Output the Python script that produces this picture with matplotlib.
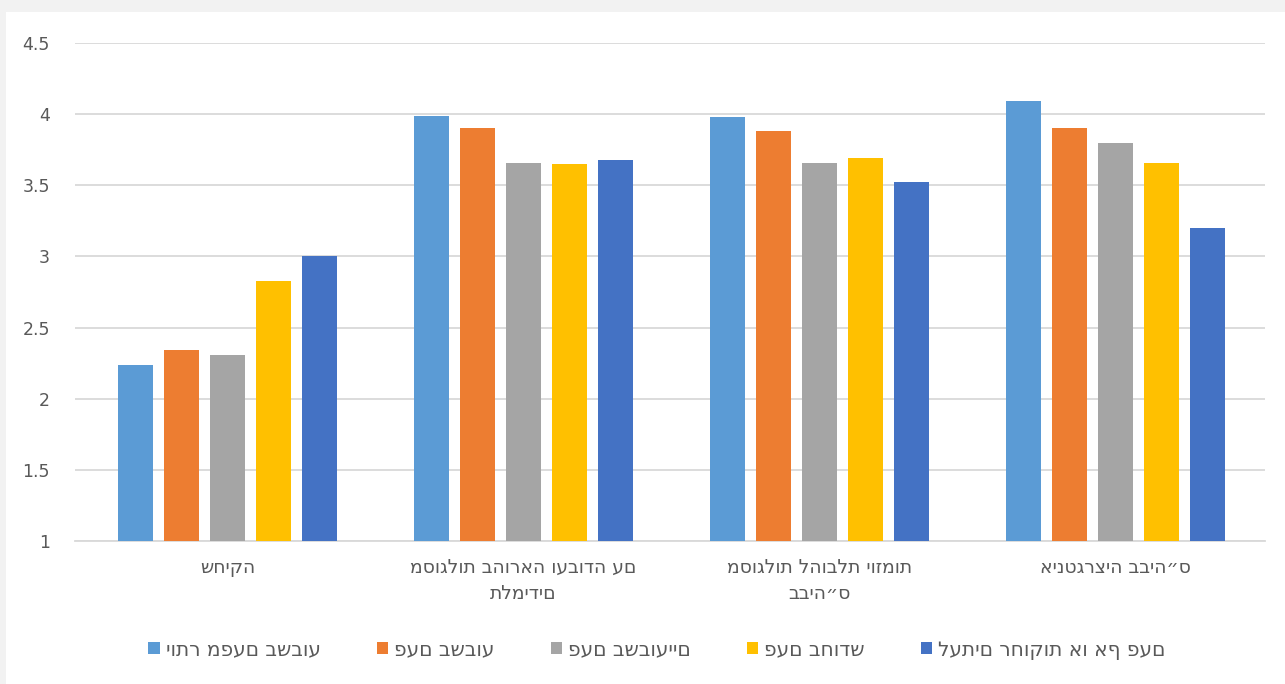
import matplotlib
matplotlib.use("Agg")
import matplotlib.pyplot as plt
from matplotlib.patches import Rectangle
import numpy as np

# the reference shows the Hebrew laid out left to right, same as matplotlib does
categories = [
    "שחיקה",
    "מסוגלות בהוראה ועבודה עם\nתלמידים",
    "מסוגלות להובלת יוזמות\nבביה״ס",
    "אינטגרציה בביה״ס",
]
series_names = [
    "יותר מפעם בשבוע",
    "פעם בשבוע",
    "פעם בשבועיים",
    "פעם בחודש",
    "לעתים רחוקות או אף פעם",
]
more_than_weekly = [2.24, 3.99, 3.98, 4.09]
weekly = [2.34, 3.90, 3.88, 3.90]
biweekly = [2.31, 3.66, 3.66, 3.80]
monthly = [2.83, 3.65, 3.69, 3.66]
rarely = [3.00, 3.68, 3.52, 3.20]
y_ticks = [1, 1.5, 2, 2.5, 3, 3.5, 4, 4.5]

series_values = [more_than_weekly, weekly, biweekly, monthly, rarely]
colors = ["#5B9BD5", "#ED7D31", "#A5A5A5", "#FFC000", "#4472C4"]

plt.rcParams["font.family"] = ["DejaVu Sans"]

fig = plt.figure(figsize=(12.85, 6.84), dpi=100)
# light gray frame strips like the original screenshot
fig.patches.append(Rectangle((0, 1 - 12 / 684), 1, 12 / 684, transform=fig.transFigure,
                             facecolor="#f2f2f2", edgecolor="none", zorder=0))
fig.patches.append(Rectangle((0, 0), 6 / 1285, 1, transform=fig.transFigure,
                             facecolor="#f2f2f2", edgecolor="none", zorder=0))

ax = fig.add_axes([75 / 1285, 1 - 541 / 684, 1190 / 1285, (541 - 43) / 684])

x = np.arange(len(categories))
pitch = 0.155
width = 0.118
for i, (name, vals, col) in enumerate(zip(series_names, series_values, colors)):
    offs = (i - 2) * pitch
    ax.bar(x + offs, np.array(vals) - 1, bottom=1, width=width, color=col,
           label=name, zorder=3)

ax.set_ylim(1, 4.5)
ax.set_xlim(-0.515, 3.505)
ax.set_yticks(y_ticks)
ax.set_yticklabels([f"{t:g}" for t in y_ticks])
ax.set_xticks(x)
ax.set_xticklabels(categories, linespacing=1.5)
ax.tick_params(axis="both", length=0, colors="#595959", labelsize=12.5)
ax.tick_params(axis="x", pad=12, labelsize=13.5)
ax.tick_params(axis="y", pad=18)
ax.grid(axis="y", color="#d9d9d9", linewidth=1.3, zorder=0)
for side in ["top", "right", "left"]:
    ax.spines[side].set_visible(False)
ax.spines["bottom"].set_color("#d9d9d9")
ax.spines["bottom"].set_linewidth(1.3)

leg = fig.legend(loc="center", bbox_to_anchor=(657 / 1285, 1 - 650 / 684), ncol=5,
                 frameon=False, fontsize=14.5, handlelength=0.55, handleheight=0.55,
                 handletextpad=0.3, columnspacing=2.8)
for t in leg.get_texts():
    t.set_color("#595959")

fig.savefig("out.png", dpi=100)
